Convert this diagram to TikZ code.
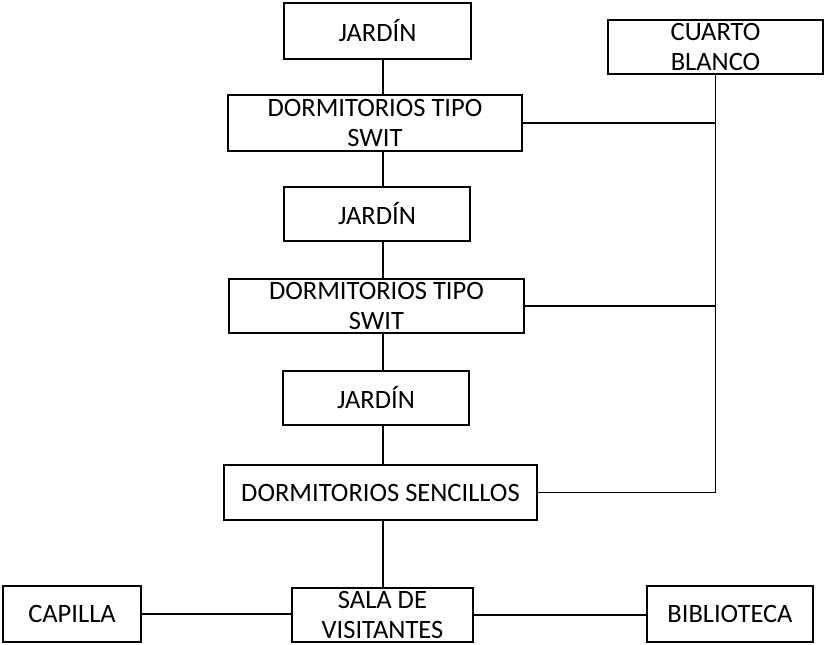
\documentclass[tikz,border=0pt]{standalone}
\usepackage{fontspec}
\setmainfont{Carlito}
\begin{document}
\begin{tikzpicture}[x=1pt,y=-1pt,
  box/.style={draw,line width=1.3pt,inner sep=0pt,align=center,
    font=\fontsize{26.5}{30}\selectfont,text=black},
  conn/.style={line width=1.2pt}]
\useasboundingbox (0,0) rectangle (825,645);
\node[box,minimum width=187pt,minimum height=56pt] (j1) at (377.5,31) {JARDÍN};
\node[box,minimum width=215pt,minimum height=54pt] (cb) at (715.5,47) {CUARTO\\BLANCO};
\node[box,minimum width=294pt,minimum height=56pt] (d1) at (375,123) {DORMITORIOS TIPO\\SWIT};
\node[box,minimum width=186pt,minimum height=54pt] (j2) at (377,214) {JARDÍN};
\node[box,minimum width=295pt,minimum height=54pt] (d2) at (376.5,306) {DORMITORIOS TIPO\\SWIT};
\node[box,minimum width=186pt,minimum height=54pt] (j3) at (376,398) {JARDÍN};
\node[box,minimum width=313pt,minimum height=55pt] (ds) at (380.5,492.5) {DORMITORIOS SENCILLOS};
\node[box,minimum width=181pt,minimum height=54pt] (sv) at (382.5,615) {SALA DE\\VISITANTES};
\node[box,minimum width=138pt,minimum height=56pt] (ca) at (72,614) {CAPILLA};
\node[box,minimum width=166pt,minimum height=56pt] (bi) at (730,614) {BIBLIOTECA};
\coordinate (sp) at (383,0);
\draw[conn] (j1.south -| sp) -- (d1.north -| sp);
\draw[conn] (d1.south -| sp) -- (j2.north -| sp);
\draw[conn] (j2.south -| sp) -- (d2.north -| sp);
\draw[conn] (d2.south -| sp) -- (j3.north -| sp);
\draw[conn] (j3.south -| sp) -- (ds.north -| sp);
\draw[conn] (ds.south -| sp) -- (sv.north -| sp);
\draw[conn] (cb.south) -- (cb.south |- ds.east) -- (ds.east);
\draw[conn] (d1.east) -- (d1.east -| cb.south);
\draw[conn] (d2.east) -- (d2.east -| cb.south);
\draw[conn] (ca.east) -- (ca.east -| sv.west);
\draw[conn] (sv.east) -- (sv.east -| bi.west);
\end{tikzpicture}
\end{document}
